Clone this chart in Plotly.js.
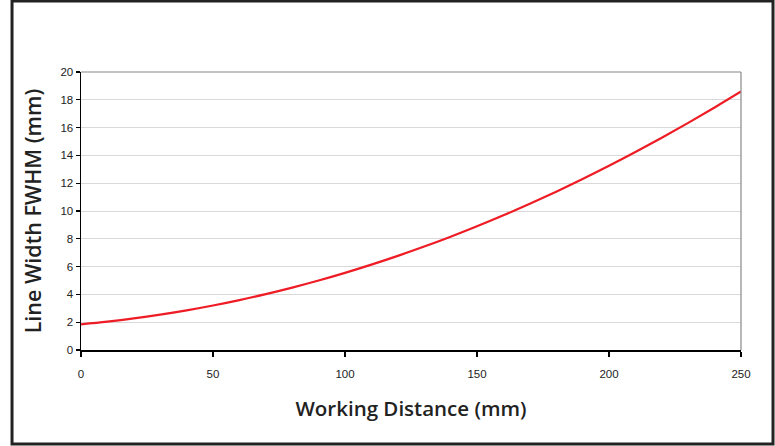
<!DOCTYPE html>
<html>
<head>
<meta charset="utf-8">
<script src="https://cdn.plot.ly/plotly-3.0.1.min.js"></script>
<style>html,body{margin:0;padding:0;background:#fff;}#chart{width:775px;height:446px;}</style>
</head>
<body>
<div id="chart"></div>
<script>
var workingDistance = [0,10,20,30,40,50,60,70,80,90,100,110,120,130,140,150,160,170,180,190,200,210,220,230,240,250];
var lineWidthFWHM = [1.85,2.04,2.27,2.54,2.85,3.20,3.59,4.02,4.49,5.00,5.55,6.14,6.77,7.44,8.15,8.90,9.69,10.52,11.39,12.30,13.25,14.24,15.27,16.34,17.45,18.60];
var xTicks = [0,50,100,150,200,250];
var yTicks = [0,2,4,6,8,10,12,14,16,18,20];

var trace = {
  x: workingDistance, y: lineWidthFWHM, type: 'scatter', mode: 'lines',
  line: {color: '#ee1c25', width: 2.2, shape: 'spline'}, hoverinfo: 'skip'
};
var tickFont = {family: 'Liberation Sans, Arial, sans-serif', size: 11.5, color: '#222'};
var layout = {
  width: 775, height: 446,
  margin: {l: 81, r: 34, t: 72, b: 96},
  paper_bgcolor: '#fff', plot_bgcolor: '#fff',
  showlegend: false,
  xaxis: {
    range: [0, 250], tickvals: xTicks, ticktext: xTicks.map(String),
    showgrid: false, zeroline: false, showline: true, linecolor: '#000', linewidth: 1.5,
    ticks: 'outside', ticklen: 5, tickcolor: '#000', tickwidth: 1.2,
    tickfont: tickFont, ticklabelstandoff: 8,
    title: {text: 'Working Distance (mm)', font: {family: 'Open Sans, sans-serif', size: 20.5, color: '#222', weight: 600}, standoff: 22}
  },
  yaxis: {
    range: [0, 20], tickvals: yTicks, ticktext: yTicks.map(String),
    showgrid: true, gridcolor: '#d9d9d9', gridwidth: 1,
    zeroline: false, showline: true, linecolor: '#000', linewidth: 1.5,
    ticks: 'outside', ticklen: 4, tickcolor: '#000', tickwidth: 1.2,
    tickfont: tickFont,
    title: {text: 'Line Width FWHM (mm)', font: {family: 'Open Sans, sans-serif', size: 21.5, color: '#222', weight: 600}, standoff: 13}
  },
  shapes: [
    {type: 'line', xref: 'paper', yref: 'paper', x0: 0, x1: 1, y0: 1, y1: 1, line: {color: '#888', width: 1.2}},
    {type: 'line', xref: 'paper', yref: 'paper', x0: 1, x1: 1, y0: 0, y1: 1, line: {color: '#888', width: 1.2}},
    {type: 'rect', xref: 'paper', yref: 'paper', x0: -0.1045, x1: 1.0485, y0: -0.338, y1: 1.2554, line: {color: '#222', width: 3}, layer: 'above'}
  ]
};
Plotly.newPlot('chart', [trace], layout, {displayModeBar: false, staticPlot: true});
</script>
</body>
</html>
